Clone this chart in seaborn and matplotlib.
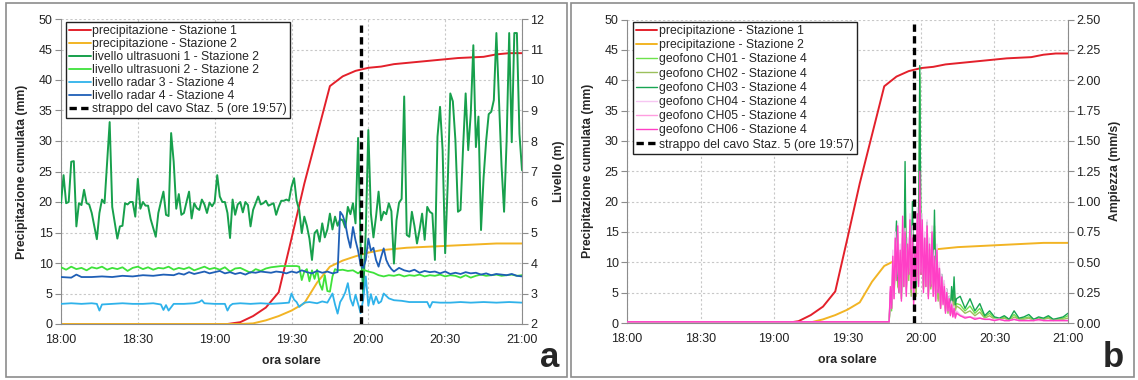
import numpy as np
import matplotlib
matplotlib.use("Agg")
import matplotlib.pyplot as plt
import seaborn as sns
from matplotlib.patches import Rectangle
from matplotlib.ticker import FormatStrFormatter

# ==========================================
# Dati (minuti dalle 18:00)
# ==========================================
time_ticks = [0, 30, 60, 90, 120, 150, 180]
time_labels = ["18:00", "18:30", "19:00", "19:30", "20:00", "20:30", "21:00"]
cable_break_min = 117  # 19:57

# precipitazione cumulata (mm), campioni ogni 5 minuti
rain_t = list(range(0, 181, 5))
rain_st1 = [0, 0, 0, 0, 0, 0, 0, 0, 0, 0, 0, 0, 0,
            0.0, 0.3, 1.3, 2.7, 5.2, 14.0, 23.0, 31.0, 39.0, 40.6, 41.5,
            42.0, 42.2, 42.6, 42.8, 43.0, 43.2, 43.4, 43.6, 43.7, 43.8,
            44.2, 44.4, 44.4]
rain_st2 = [0, 0, 0, 0, 0, 0, 0, 0, 0, 0, 0, 0, 0, 0, 0,
            0.1, 0.6, 1.3, 2.2, 3.4, 6.8, 9.4, 10.4, 11.1, 11.7, 12.1,
            12.3, 12.5, 12.6, 12.7, 12.8, 12.9, 13.0, 13.1, 13.2, 13.2, 13.2]

# livelli (m): coppie (minuto, valore)
us1 = [(0, 5.96), (1, 6.88), (2, 5.96), (3, 6.0), (4, 7.32), (5, 7.34), (6, 5.2),
       (7, 5.96), (8, 5.9), (9, 6.4), (10, 5.96), (11, 5.92), (12, 5.64), (14, 4.78),
       (15, 5.64), (16, 6.08), (17, 5.96), (19, 8.62), (20, 5.84), (22, 4.8), (23, 5.2),
       (24, 5.22), (25, 5.96), (26, 5.92), (27, 6.0), (28, 6.0), (29, 5.52), (30, 6.76),
       (31, 5.78), (32, 6.0), (33, 5.88), (34, 5.88), (35, 5.44), (37, 4.86), (38, 5.64),
       (39, 6.0), (40, 6.34), (41, 5.58), (42, 5.54), (43, 8.26), (44, 7.32), (45, 5.78),
       (46, 6.26), (47, 5.58), (48, 5.64), (49, 6.0), (50, 6.34), (51, 5.46), (52, 5.96),
       (53, 5.8), (54, 5.74), (55, 6.08), (56, 5.92), (57, 5.64), (58, 5.98), (59, 5.86),
       (60, 6.0), (61, 6.88), (62, 6.18), (63, 6.0), (64, 6.0), (65, 5.64), (66, 4.82),
       (67, 6.08), (68, 5.58), (69, 5.92), (70, 6.0), (71, 5.66), (72, 6.0), (73, 5.9),
       (74, 5.2), (75, 5.74), (76, 5.96), (77, 6.18), (78, 5.92), (79, 5.96), (80, 6.04),
       (81, 5.88), (82, 5.92), (83, 5.96), (84, 5.58), (85, 5.84), (86, 6.04), (87, 6.04),
       (88, 6.08), (89, 6.04), (90, 6.5), (91, 6.78), (92, 6.04), (93, 5.74), (94, 4.98),
       (95, 5.52), (96, 5.22), (97, 4.8), (98, 4.1), (99, 4.98), (100, 5.08), (101, 4.7),
       (102, 5.3), (103, 4.84), (104, 5.1), (105, 5.62), (106, 5.1), (107, 5.52),
       (108, 5.22), (109, 5.44), (110, 5.4), (111, 5.16), (112, 5.84), (113, 5.6),
       (114, 5.96), (115, 5.3), (116, 8.1), (117, 4.54), (118, 3.0), (119, 5.06),
       (120, 8.36), (121, 5.62), (122, 4.84), (123, 5.52), (124, 6.34), (125, 5.4),
       (126, 5.68), (127, 5.6), (128, 5.96), (129, 5.7), (130, 3.98), (131, 5.4),
       (132, 5.98), (133, 6.1), (134, 9.46), (135, 4.92), (136, 4.86), (137, 5.68),
       (138, 5.22), (139, 4.64), (140, 5.08), (141, 5.62), (142, 4.76), (143, 5.84),
       (144, 5.68), (145, 5.62), (146, 4.1), (147, 8.14), (148, 9.12), (149, 7.7),
       (150, 4.32), (151, 6.6), (152, 9.56), (153, 9.3), (154, 8.02), (155, 5.68),
       (156, 5.74), (157, 7.8), (158, 9.56), (159, 7.7), (160, 8.9), (161, 11.14),
       (162, 7.8), (163, 8.8), (164, 5.08), (165, 6.8), (166, 8.0), (167, 8.88),
       (168, 8.96), (169, 9.34), (170, 11.54), (171, 9.4), (172, 7.2), (173, 5.68),
       (174, 8.02), (175, 11.54), (176, 7.96), (177, 11.54), (178, 11.54), (179, 8.24),
       (180, 7.04)]

us2 = [(0, 3.86), (2, 3.78), (4, 3.88), (6, 3.80), (8, 3.84), (10, 3.76), (12, 3.86),
       (14, 3.82), (16, 3.88), (18, 3.78), (20, 3.84), (22, 3.80), (24, 3.86), (26, 3.74),
       (28, 3.84), (30, 3.88), (32, 3.80), (34, 3.86), (36, 3.78), (38, 3.84), (40, 3.82),
       (42, 3.88), (44, 3.78), (46, 3.84), (48, 3.80), (50, 3.86), (52, 3.76), (54, 3.82),
       (56, 3.88), (58, 3.80), (60, 3.84), (62, 3.78), (64, 3.86), (66, 3.72), (68, 3.82),
       (70, 3.84), (72, 3.76), (74, 3.68), (76, 3.80), (78, 3.74), (80, 3.82), (82, 3.86),
       (84, 3.88), (86, 3.90), (88, 3.90), (90, 3.90), (92, 3.90), (93, 3.88), (94, 3.44),
       (95, 3.72), (96, 3.80), (97, 3.40), (98, 3.76), (99, 3.48), (100, 3.78), (101, 3.32),
       (102, 3.12), (103, 3.60), (104, 3.08), (105, 3.06), (106, 3.56), (107, 3.80),
       (108, 3.76), (110, 3.78), (112, 3.74), (114, 3.76), (116, 3.66), (118, 3.78),
       (120, 3.72), (122, 3.68), (124, 3.60), (126, 3.56), (128, 3.60), (130, 3.58),
       (132, 3.62), (134, 3.56), (136, 3.60), (138, 3.58), (140, 3.62), (142, 3.56),
       (144, 3.60), (146, 3.58), (148, 3.62), (150, 3.56), (152, 3.60), (154, 3.58),
       (156, 3.52), (158, 3.60), (160, 3.52), (162, 3.58), (164, 3.62), (166, 3.58),
       (168, 3.60), (170, 3.62), (172, 3.58), (174, 3.60), (176, 3.62), (178, 3.58),
       (180, 3.60)]

radar3 = [(0, 2.66), (4, 2.68), (8, 2.66), (12, 2.68), (14, 2.66), (15, 2.44), (16, 2.64),
          (20, 2.66), (24, 2.68), (28, 2.66), (32, 2.66), (36, 2.68), (39, 2.64), (40, 2.46),
          (41, 2.62), (42, 2.44), (44, 2.66), (48, 2.66), (52, 2.68), (54, 2.72), (55, 2.78),
          (56, 2.68), (60, 2.66), (64, 2.66), (65, 2.44), (66, 2.60), (67, 2.66), (70, 2.68),
          (74, 2.66), (78, 2.68), (82, 2.66), (86, 2.68), (89, 2.70), (90, 3.00), (91, 2.80),
          (92, 2.72), (93, 2.56), (95, 2.70), (97, 2.72), (100, 2.68), (102, 2.74),
          (104, 2.70), (106, 3.00), (107, 2.64), (108, 2.34), (109, 2.72), (110, 2.86),
          (111, 3.04), (112, 3.34), (113, 2.82), (114, 2.60), (115, 2.96), (116, 2.66),
          (117, 2.36), (118, 2.80), (119, 3.56), (120, 2.60), (121, 2.98), (122, 2.64),
          (123, 2.90), (124, 2.68), (125, 2.74), (126, 3.00), (128, 2.84), (130, 2.78),
          (133, 2.76), (136, 2.72), (140, 2.72), (143, 2.72), (144, 2.54), (145, 2.72),
          (148, 2.70), (152, 2.70), (156, 2.72), (160, 2.70), (165, 2.72), (170, 2.70),
          (175, 2.72), (180, 2.70)]

radar4 = [(0, 3.54), (4, 3.52), (6, 3.62), (8, 3.54), (12, 3.54), (16, 3.56), (20, 3.54),
          (24, 3.58), (28, 3.56), (32, 3.60), (36, 3.58), (40, 3.62), (44, 3.60), (46, 3.66),
          (48, 3.62), (50, 3.70), (52, 3.64), (54, 3.68), (56, 3.72), (58, 3.66), (60, 3.70),
          (62, 3.74), (64, 3.66), (66, 3.70), (68, 3.64), (70, 3.68), (72, 3.62), (74, 3.70),
          (76, 3.68), (78, 3.72), (80, 3.70), (82, 3.68), (84, 3.72), (86, 3.70), (88, 3.66),
          (90, 3.72), (92, 3.68), (94, 3.76), (96, 3.70), (98, 3.66), (100, 3.74), (102, 3.68),
          (104, 3.72), (106, 3.66), (108, 3.70), (109, 5.68), (110, 5.56), (111, 5.30),
          (112, 4.84), (113, 4.50), (114, 5.18), (115, 4.74), (116, 4.40), (117, 3.94),
          (118, 3.84), (119, 4.10), (120, 4.80), (121, 4.40), (122, 4.50), (123, 4.10),
          (124, 3.88), (125, 4.20), (126, 4.48), (127, 4.10), (128, 3.92), (129, 3.80),
          (130, 3.72), (132, 3.84), (134, 3.76), (136, 3.72), (138, 3.78), (140, 3.68),
          (142, 3.74), (144, 3.70), (146, 3.72), (148, 3.66), (150, 3.72), (152, 3.64),
          (154, 3.68), (156, 3.64), (158, 3.70), (160, 3.66), (162, 3.68), (164, 3.62),
          (166, 3.66), (168, 3.60), (170, 3.64), (172, 3.62), (174, 3.60), (176, 3.64),
          (178, 3.58), (180, 3.56)]

# geofoni (mm/s): riposo, poi ogni 0.5 min da 19:47 a 20:14.5, poi ogni 2 min
geo_t = np.concatenate([[0, 106.5], np.arange(107, 135, 0.5), np.arange(136, 181, 2)])
geo_rest = [0.01, 0.01]
ch01 = [0.01, 0.20, 0.10, 0.40, 0.25, 0.50, 0.70, 0.35, 0.25, 0.50, 0.20, 0.60, 0.35, 1.10,
        0.30, 0.50, 0.40, 0.70, 0.25, 0.85, 0.35, 0.50, 0.25, 0.60, 0.40, 2.05, 0.45, 0.55,
        0.30, 0.60, 0.35, 0.75, 0.25, 0.50, 0.30, 0.45, 0.35, 0.80, 0.25, 0.45, 0.20, 0.40,
        0.15, 0.35, 0.25, 0.20, 0.12, 0.24, 0.10, 0.18, 0.08, 0.25, 0.14, 0.30, 0.12, 0.16,
        0.15, 0.10, 0.14, 0.08, 0.12, 0.05, 0.08, 0.04, 0.03, 0.05, 0.03, 0.07, 0.03, 0.04,
        0.05, 0.03, 0.04, 0.03, 0.05, 0.03, 0.03, 0.04, 0.06]
ch02 = [0.01, 0.18, 0.12, 0.38, 0.22, 0.45, 0.60, 0.30, 0.28, 0.45, 0.22, 0.55, 0.30, 0.95,
        0.28, 0.45, 0.35, 0.65, 0.22, 0.75, 0.30, 0.45, 0.22, 0.55, 0.35, 1.30, 0.40, 0.50,
        0.28, 0.55, 0.30, 0.65, 0.22, 0.45, 0.28, 0.40, 0.30, 0.70, 0.22, 0.40, 0.18, 0.35,
        0.12, 0.30, 0.20, 0.18, 0.10, 0.20, 0.08, 0.15, 0.07, 0.20, 0.12, 0.25, 0.10, 0.14,
        0.12, 0.08, 0.10, 0.06, 0.09, 0.04, 0.06, 0.03, 0.03, 0.04, 0.02, 0.05, 0.03, 0.03,
        0.04, 0.02, 0.03, 0.03, 0.04, 0.02, 0.03, 0.03, 0.04]
ch03 = [0.01, 0.25, 0.15, 0.45, 0.30, 0.60, 0.84, 0.40, 0.30, 0.55, 0.25, 0.70, 0.40, 1.33,
        0.35, 0.60, 0.45, 0.80, 0.30, 1.00, 0.40, 0.55, 0.30, 0.70, 0.45, 2.12, 0.50, 0.65,
        0.35, 0.70, 0.40, 0.83, 0.30, 0.60, 0.35, 0.55, 0.40, 0.93, 0.30, 0.55, 0.25, 0.45,
        0.20, 0.40, 0.30, 0.25, 0.15, 0.28, 0.12, 0.22, 0.10, 0.30, 0.18, 0.38, 0.15, 0.20,
        0.22, 0.12, 0.20, 0.10, 0.16, 0.06, 0.10, 0.05, 0.04, 0.06, 0.03, 0.10, 0.04, 0.05,
        0.07, 0.03, 0.05, 0.04, 0.06, 0.03, 0.04, 0.05, 0.08]
ch04 = [0.01, 0.28, 0.15, 0.60, 0.22, 0.75, 0.40, 0.82, 0.30, 0.65, 0.22, 0.80, 0.35, 0.78,
        0.25, 0.70, 0.45, 0.90, 0.30, 0.80, 0.20, 0.65, 0.40, 0.95, 0.35, 1.00, 0.45, 0.90,
        0.30, 0.75, 0.35, 0.85, 0.25, 0.70, 0.35, 0.80, 0.25, 0.60, 0.20, 0.65, 0.28, 0.50,
        0.15, 0.40, 0.18, 0.35, 0.10, 0.28, 0.12, 0.22, 0.08, 0.18, 0.06, 0.14, 0.05, 0.10,
        0.07, 0.05, 0.05, 0.04, 0.04, 0.03, 0.03, 0.03, 0.03, 0.02, 0.02, 0.03, 0.02, 0.02,
        0.02, 0.02, 0.03, 0.02, 0.02, 0.02, 0.02, 0.02, 0.02]
ch05 = [0.01, 0.26, 0.14, 0.50, 0.20, 0.68, 0.38, 0.72, 0.28, 0.58, 0.20, 0.78, 0.32, 0.70,
        0.24, 0.62, 0.42, 0.80, 0.28, 0.72, 0.18, 0.58, 0.38, 0.85, 0.32, 1.05, 0.42, 0.80,
        0.28, 0.68, 0.32, 0.78, 0.22, 0.62, 0.32, 0.72, 0.22, 0.52, 0.18, 0.58, 0.25, 0.45,
        0.14, 0.36, 0.16, 0.32, 0.09, 0.25, 0.10, 0.20, 0.07, 0.16, 0.05, 0.12, 0.05, 0.09,
        0.06, 0.05, 0.05, 0.04, 0.04, 0.03, 0.03, 0.02, 0.03, 0.02, 0.02, 0.03, 0.02, 0.02,
        0.02, 0.02, 0.02, 0.02, 0.02, 0.02, 0.02, 0.02, 0.02]
ch06 = [0.01, 0.30, 0.12, 0.55, 0.20, 0.70, 0.35, 0.80, 0.25, 0.60, 0.18, 0.88, 0.30, 0.75,
        0.22, 0.65, 0.40, 0.85, 0.28, 0.70, 0.15, 0.60, 0.35, 0.90, 0.30, 1.25, 0.40, 0.85,
        0.25, 0.70, 0.30, 0.80, 0.20, 0.65, 0.30, 0.75, 0.22, 0.55, 0.18, 0.60, 0.25, 0.45,
        0.12, 0.38, 0.15, 0.30, 0.08, 0.25, 0.10, 0.20, 0.06, 0.15, 0.05, 0.12, 0.04, 0.08,
        0.06, 0.04, 0.05, 0.03, 0.04, 0.03, 0.03, 0.02, 0.03, 0.02, 0.02, 0.03, 0.02, 0.02,
        0.02, 0.02, 0.03, 0.02, 0.02, 0.02, 0.02, 0.02, 0.02]

RED = "#e3202b"
YELLOW = "#f2b424"
GRAY = "#8c8c8c"

# ==========================================
# Grafico
# ==========================================
sns.set_style("white")
plt.rcParams["font.family"] = ["Liberation Sans", "DejaVu Sans"]

fig = plt.figure(figsize=(11.38, 3.80), dpi=100)
W, H = 1138, 380

# cornici dei due pannelli
for x0, x1 in [(6, 567), (571, 1134)]:
    fig.patches.append(Rectangle((x0 / W, 1 - 377 / H), (x1 - x0) / W, 374 / H,
                                 transform=fig.transFigure, fill=False,
                                 edgecolor=GRAY, linewidth=1.2))


def line(ax, t, v, color, label, lw=1.4):
    sns.lineplot(x=list(t), y=list(v), ax=ax, color=color, linewidth=lw,
                 label=label, legend=False, estimator=None, sort=False)


def pairs(p):
    return [a for a, _ in p], [b for _, b in p]


def style_axes(ax, ax2, rlim, rticks, rlabel):
    ax.set_xlim(0, 180)
    ax.set_ylim(0, 50)
    ax.set_xticks(time_ticks)
    ax.set_xticklabels(time_labels)
    ax.set_yticks(range(0, 51, 5))
    ax.grid(True, color="#c8c8c8", linestyle=(0, (2, 2)), linewidth=0.8)
    ax.set_axisbelow(True)
    for s in ["top", "right"]:
        ax.spines[s].set_visible(False)
    for s in ["left", "bottom"]:
        ax.spines[s].set_color(GRAY)
    for s in ["top", "left", "bottom"]:
        ax2.spines[s].set_visible(False)
    ax2.spines["right"].set_color(GRAY)
    ax.tick_params(axis="both", direction="out", length=4, color=GRAY,
                   labelsize=9, labelcolor="#222222", pad=2)
    ax.tick_params(axis="x", pad=3)
    ax2.tick_params(axis="y", direction="out", length=4, color=GRAY,
                    labelsize=9, labelcolor="#222222", pad=2)
    ax2.set_ylim(*rlim)
    ax2.set_yticks(rticks)
    ax.set_xlabel("ora solare", fontsize=8.8, fontweight="bold", labelpad=7)
    ax.set_ylabel("Precipitazione cumulata (mm)", fontsize=8.8,
                  fontweight="bold", labelpad=8)
    ax2.set_ylabel(rlabel, fontsize=8.8, fontweight="bold", labelpad=6)


def add_legend(ax, ax2, anchor, spacing):
    h1, l1 = ax.get_legend_handles_labels()
    h2, l2 = ax2.get_legend_handles_labels()
    leg = ax2.legend(h1 + h2, l1 + l2, loc="upper left", bbox_to_anchor=anchor,
                     borderaxespad=0, fontsize=8.8, frameon=True, fancybox=False,
                     framealpha=1, edgecolor="#222222", labelspacing=spacing,
                     handlelength=1.75, handletextpad=0.15, borderpad=0.25)
    leg.get_frame().set_linewidth(1.0)


def cable_line(ax2):
    ax2.axvline(cable_break_min, ymin=0, ymax=0.985, color="black", linewidth=2.4,
                dashes=(2.2, 1.3), label="strappo del cavo Staz. 5 (ore 19:57)")


# --- pannello a ---
axa = fig.add_axes([61 / W, 1 - 324 / H, 461 / W, 305 / H])
axa2 = axa.twinx()
line(axa, rain_t, rain_st1, RED, "precipitazione - Stazione 1")
line(axa, rain_t, rain_st2, YELLOW, "precipitazione - Stazione 2")
line(axa2, *pairs(us1), "#17a04c", "livello ultrasuoni 1 - Stazione 2", 1.4)
line(axa2, *pairs(us2), "#3ee23a", "livello ultrasuoni 2 - Stazione 2", 1.3)
line(axa2, *pairs(radar3), "#2fb2ea", "livello radar 3 - Stazione 4", 1.3)
line(axa2, *pairs(radar4), "#1f5fb6", "livello radar 4 - Stazione 4", 1.3)
cable_line(axa2)
style_axes(axa, axa2, (2, 12), range(2, 13), "Livello (m)")
add_legend(axa, axa2, (0.011, 0.99), 0.08)

# --- pannello b ---
axb = fig.add_axes([627 / W, 1 - 323 / H, 441 / W, 303.5 / H])
axb2 = axb.twinx()
line(axb, rain_t, rain_st1, RED, "precipitazione - Stazione 1")
line(axb, rain_t, rain_st2, YELLOW, "precipitazione - Stazione 2")
geo = [(ch01, "#6ee24c", "geofono CH01 - Stazione 4"),
       (ch02, "#9cc05c", "geofono CH02 - Stazione 4"),
       (ch03, "#18a552", "geofono CH03 - Stazione 4"),
       (ch04, "#f6c6f2", "geofono CH04 - Stazione 4"),
       (ch05, "#ff9de0", "geofono CH05 - Stazione 4"),
       (ch06, "#ff3fc6", "geofono CH06 - Stazione 4")]
for vals, col, lab in geo:
    line(axb2, geo_t, geo_rest + vals, col, lab, 1.0)
cable_line(axb2)
style_axes(axb, axb2, (0, 2.5), np.arange(0, 2.51, 0.25), "Ampiezza (mm/s)")
axb2.yaxis.set_major_formatter(FormatStrFormatter("%.2f"))
add_legend(axb, axb2, (0.0136, 0.992), 0.18)

# lettere dei pannelli
fig.text(550 / W, 1 - 367 / H, "a", fontsize=25, fontweight="bold",
         ha="center", va="baseline")
fig.text(1113 / W, 1 - 367 / H, "b", fontsize=25, fontweight="bold",
         ha="center", va="baseline")

fig.savefig("out.png", dpi=100)
